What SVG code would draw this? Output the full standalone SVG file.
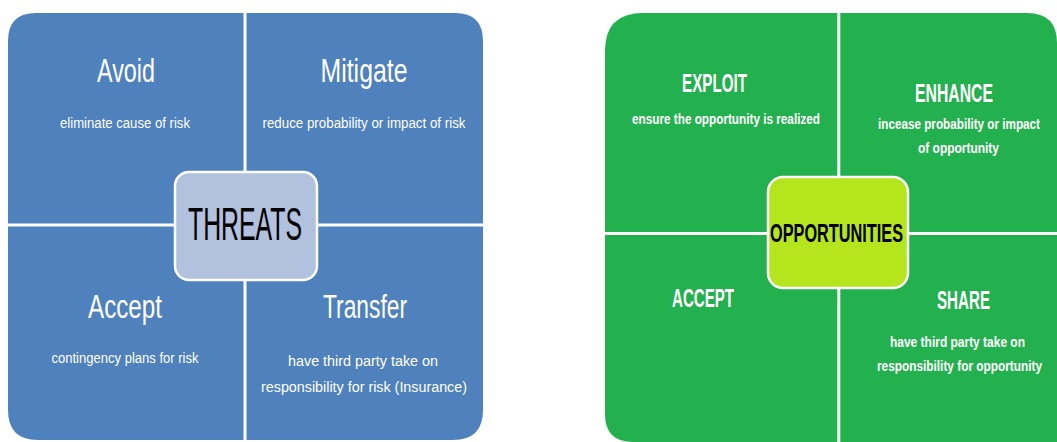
<svg xmlns="http://www.w3.org/2000/svg" width="1057" height="442" viewBox="0 0 1057 442">
<style>
.blue{fill:#4f81bd;}
.green{fill:#23b04e;}
.hd{font-family:"Liberation Sans",Arial,sans-serif;fill:#ffffff;text-anchor:middle;}
.sub{font-family:"Liberation Sans",Arial,sans-serif;fill:#ffffff;text-anchor:middle;font-size:15.5px;}
.hdb{font-family:"Liberation Sans",Arial,sans-serif;fill:#ffffff;text-anchor:middle;font-weight:bold;font-size:26px;}
.subb{font-family:"Liberation Sans",Arial,sans-serif;fill:#ffffff;text-anchor:middle;font-weight:bold;font-size:14.5px;}
.center{stroke:#ffffff;stroke-width:2.5;}
</style>
<rect width="1057" height="442" fill="#ffffff"/>
<g id="threats-panel">
  <g id="avoid">
    <path class="blue" d="M8,41 Q8,13 36,13 L243.5,13 L243.5,223.5 L8,223.5 Z"/>
    <text class="hd" x="126" y="82" font-size="34" textLength="58" lengthAdjust="spacingAndGlyphs">Avoid</text>
    <text class="sub" x="125" y="128" textLength="130" lengthAdjust="spacingAndGlyphs">eliminate cause of risk</text>
  </g>
  <g id="mitigate">
    <path class="blue" d="M246.5,13 L455,13 Q483,13 483,41 L483,223.5 L246.5,223.5 Z"/>
    <text class="hd" x="364" y="82" font-size="34" textLength="87" lengthAdjust="spacingAndGlyphs">Mitigate</text>
    <text class="sub" x="364" y="128" textLength="203" lengthAdjust="spacingAndGlyphs">reduce  probability or impact of risk</text>
  </g>
  <g id="accept">
    <path class="blue" d="M8,226.5 L243.5,226.5 L243.5,440 L38,440 Q8,440 8,410 Z"/>
    <text class="hd" x="125" y="318" font-size="34" textLength="74" lengthAdjust="spacingAndGlyphs">Accept</text>
    <text class="sub" x="125" y="363" textLength="147" lengthAdjust="spacingAndGlyphs">contingency plans for risk</text>
  </g>
  <g id="transfer">
    <path class="blue" d="M246.5,226.5 L483,226.5 L483,410 Q483,440 453,440 L246.5,440 Z"/>
    <text class="hd" x="365" y="318" font-size="34" textLength="84" lengthAdjust="spacingAndGlyphs">Transfer</text>
    <text class="sub" x="363" y="366" textLength="150" lengthAdjust="spacingAndGlyphs">have third party take on</text>
    <text class="sub" x="364" y="392" textLength="206" lengthAdjust="spacingAndGlyphs">responsibility for risk (Insurance)</text>
  </g>
  <g id="threats">
    <rect class="center" x="175" y="172" width="142" height="108" rx="14" fill="#b1c1de"/>
    <text x="245" y="240" font-family="'Liberation Sans',Arial,sans-serif" font-size="46" fill="#000000" text-anchor="middle" textLength="114" lengthAdjust="spacingAndGlyphs">THREATS</text>
  </g>
</g>
<g id="opportunities-panel">
  <g id="exploit">
    <path class="green" d="M605,51 Q605,13 643,13 L837.3,13 L837.3,232 L605,232 Z"/>
    <text class="hdb" x="714.5" y="92" textLength="65" lengthAdjust="spacingAndGlyphs">EXPLOIT</text>
    <text class="subb" x="726" y="124" textLength="188" lengthAdjust="spacingAndGlyphs">ensure the opportunity is realized</text>
  </g>
  <g id="enhance">
    <path class="green" d="M840.3,13 L1027,13 Q1057,13 1057,43 L1057,232 L840.3,232 Z"/>
    <text class="hdb" x="954" y="102" textLength="78" lengthAdjust="spacingAndGlyphs">ENHANCE</text>
    <text class="subb" x="959" y="129" font-size="12.5" textLength="162" lengthAdjust="spacingAndGlyphs">incease probability or impact</text>
    <text class="subb" x="958.5" y="153" textLength="81" lengthAdjust="spacingAndGlyphs">of opportunity</text>
  </g>
  <g id="accept-opp">
    <path class="green" d="M605,235 L837.3,235 L837.3,442 L633,442 Q605,442 605,414 Z"/>
    <text class="hdb" x="703" y="307" textLength="62" lengthAdjust="spacingAndGlyphs">ACCEPT</text>
  </g>
  <g id="share">
    <path class="green" d="M840.3,235 L1057,235 L1057,442 L840.3,442 Z"/>
    <text class="hdb" x="963.5" y="309" textLength="53" lengthAdjust="spacingAndGlyphs">SHARE</text>
    <text class="subb" x="957.5" y="347" textLength="135" lengthAdjust="spacingAndGlyphs">have third party take on</text>
    <text class="subb" x="959.5" y="371" font-size="12.5" textLength="165" lengthAdjust="spacingAndGlyphs">responsibility for opportunity</text>
  </g>
  <g id="opportunities">
    <rect class="center" x="768" y="177" width="140" height="111" rx="15" fill="#b5e51d"/>
    <text x="836.5" y="242" font-family="'Liberation Sans',Arial,sans-serif" font-size="26" font-weight="bold" fill="#000000" text-anchor="middle" textLength="133" lengthAdjust="spacingAndGlyphs">OPPORTUNITIES</text>
  </g>
</g>
<g id="connectors"></g>
</svg>
